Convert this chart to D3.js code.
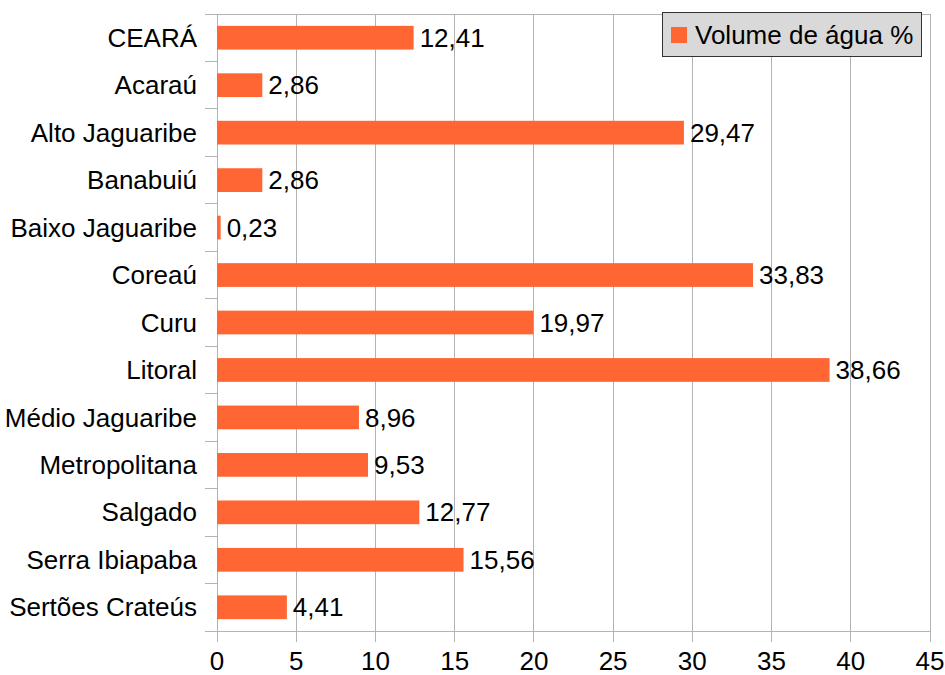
<!DOCTYPE html>
<html><head><meta charset="utf-8">
<script src="https://cdn.jsdelivr.net/npm/d3@7"></script>
<style>body{margin:0;background:#fff}svg{display:block}text{font-family:"Liberation Sans",Arial,sans-serif;fill:#000}</style>
</head><body><svg id="c" width="945" height="675"></svg>
<script>
const categories = ["CEARÁ","Acaraú","Alto Jaguaribe","Banabuiú","Baixo Jaguaribe","Coreaú","Curu","Litoral","Médio Jaguaribe","Metropolitana","Salgado","Serra Ibiapaba","Sertões Crateús"];
const values = [12.41,2.86,29.47,2.86,0.23,33.83,19.97,38.66,8.96,9.53,12.77,15.56,4.41];
const xTicks = [0,5,10,15,20,25,30,35,40,45];
const seriesName = "Volume de água %";

const svg = d3.select("#c");
const L=217, R=930, T=14, B=631, FS=26;
const grid="#b3b3b3";
const x = d3.scaleLinear().domain([0,45]).range([L,R]);
const y = d3.scaleBand().domain(categories).range([T,B]).paddingInner(0.5).paddingOuter(0.25);

// gridlines
svg.append("g").selectAll("line").data(xTicks).join("line")
  .attr("x1",d=>x(d)).attr("x2",d=>x(d)).attr("y1",T).attr("y2",B+11)
  .attr("stroke",grid).attr("stroke-width",1).attr("shape-rendering","crispEdges");
// border top / left / bottom
svg.append("line").attr("x1",L-12).attr("x2",R).attr("y1",T).attr("y2",T).attr("stroke",grid).attr("shape-rendering","crispEdges");
svg.append("line").attr("x1",L).attr("x2",R).attr("y1",B).attr("y2",B).attr("stroke",grid).attr("shape-rendering","crispEdges");
svg.append("line").attr("x1",L).attr("x2",L).attr("y1",T).attr("y2",B).attr("stroke",grid).attr("shape-rendering","crispEdges");
// left ticks at category boundaries
const step = y.step();
svg.append("g").selectAll("line").data(d3.range(categories.length+1)).join("line")
  .attr("x1",L-12).attr("x2",L).attr("y1",i=>T+i*step).attr("y2",i=>T+i*step)
  .attr("stroke",grid).attr("shape-rendering","crispEdges");

// bars
svg.append("g").selectAll("rect").data(values).join("rect")
  .attr("x",x(0)).attr("y",(d,i)=>y(categories[i]))
  .attr("width",d=>x(d)-x(0)).attr("height",y.bandwidth())
  .attr("fill","#ff6633");

// value labels
const fmt = d=>d.toFixed(2).replace(".",",");
svg.append("g").selectAll("text").data(values).join("text")
  .attr("x",d=>x(d)+6).attr("y",(d,i)=>y(categories[i])+y.bandwidth()/2)
  .attr("dy","0.35em").attr("font-size",FS).text(fmt);

// category labels
svg.append("g").selectAll("text").data(categories).join("text")
  .attr("x",L-20).attr("y",d=>y(d)+y.bandwidth()/2).attr("dy","0.35em")
  .attr("text-anchor","end").attr("font-size",FS).text(d=>d);

// x tick labels
svg.append("g").selectAll("text").data(xTicks).join("text")
  .attr("x",d=>x(d)).attr("y",B+30).attr("dy","0.35em")
  .attr("text-anchor","middle").attr("font-size",FS).text(d=>d);

// legend
const lg = svg.append("g");
lg.append("rect").attr("x",662.5).attr("y",12.5).attr("width",259).attr("height",44)
  .attr("fill","#d9d9d9").attr("stroke","#333");
lg.append("rect").attr("x",671).attr("y",27).attr("width",16).attr("height",16).attr("fill","#ff6633");
lg.append("text").attr("x",695).attr("y",35).attr("dy","0.35em").attr("font-size",FS).text(seriesName);
</script></body></html>
